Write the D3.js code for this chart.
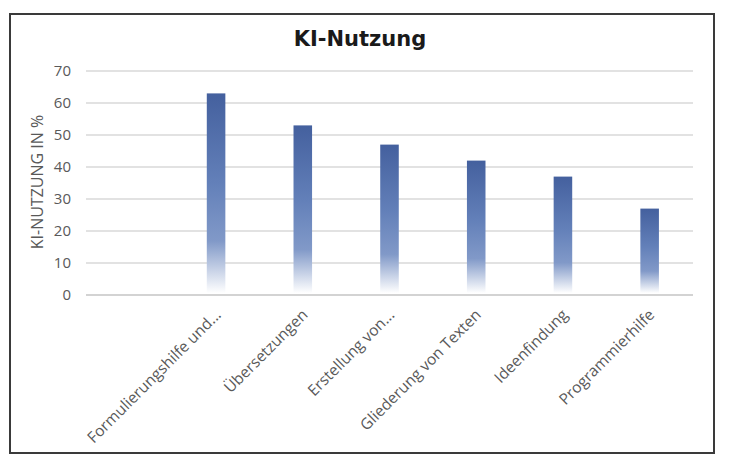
<!DOCTYPE html>
<html>
<head>
<meta charset="utf-8">
<script src="https://cdn.jsdelivr.net/npm/d3@7"></script>
<style>
  html, body { margin: 0; padding: 0; background: #ffffff; }
  svg { display: block; }
</style>
</head>
<body>
<svg id="chart" width="730" height="468"></svg>
<script>
// ---- Data ----
const title = "KI-Nutzung";
const yAxisTitle = "KI-NUTZUNG IN %";
const categories = ["", "Formulierungshilfe und...", "Übersetzungen", "Erstellung von...", "Gliederung von Texten", "Ideenfindung", "Programmierhilfe"];
const values = [null, 63, 53, 47, 42, 37, 27];
const yTicks = [0, 10, 20, 30, 40, 50, 60, 70];

// ---- Layout ----
const W = 730, H = 468;
const plot = { left: 86, right: 693, top: 71, bottom: 295 };
const font = "'Open Sans', 'DejaVu Sans', sans-serif";

const svg = d3.select("#chart");

svg.append("rect").attr("x", 0).attr("y", 0).attr("width", W).attr("height", H).attr("fill", "#ffffff");

// frame
svg.append("rect")
  .attr("x", 10).attr("y", 14).attr("width", 704).attr("height", 439)
  .attr("fill", "none").attr("stroke", "#3a3a3a").attr("stroke-width", 2);

// gradient
const defs = svg.append("defs");
const grad = defs.append("linearGradient").attr("id", "barGrad")
  .attr("x1", 0).attr("y1", 0).attr("x2", 0).attr("y2", 1);
grad.append("stop").attr("offset", "0%").attr("stop-color", "#44609e");
grad.append("stop").attr("offset", "45%").attr("stop-color", "#6380b9");
grad.append("stop").attr("offset", "74%").attr("stop-color", "#8199c8");
grad.append("stop").attr("offset", "100%").attr("stop-color", "#ffffff");

const x = d3.scaleBand().domain(categories).range([plot.left, plot.right])
  .paddingInner(0.786).paddingOuter(0.393);
const y = d3.scaleLinear().domain([0, 70]).range([plot.bottom, plot.top]);

// gridlines
svg.append("g").selectAll("line").data(yTicks).join("line")
  .attr("x1", plot.left).attr("x2", plot.right)
  .attr("y1", d => y(d)).attr("y2", d => y(d))
  .attr("stroke", d => d === 0 ? "#c4c4c4" : "#d9d9d9")
  .attr("stroke-width", 1.5);

// y axis labels
const yAxis = d3.axisLeft(y).tickValues(yTicks).tickSize(0).tickPadding(0);
const yg = svg.append("g").attr("transform", `translate(71,0)`).call(yAxis);
yg.select(".domain").remove();
yg.selectAll("text").attr("font-family", font).attr("font-size", 15).attr("fill", "#595959");

// bars
const data = categories.map((c, i) => ({ c, v: values[i] })).filter(d => d.v !== null);
svg.append("g").selectAll("rect").data(data).join("rect")
  .attr("x", d => x(d.c))
  .attr("width", x.bandwidth())
  .attr("y", d => y(d.v))
  .attr("height", d => y(0) - y(d.v) - 2)
  .attr("fill", "url(#barGrad)");

// x labels
const xAxis = d3.axisBottom(x).tickSize(0).tickPadding(0);
const xg = svg.append("g").attr("transform", `translate(0,${plot.bottom})`).call(xAxis);
xg.select(".domain").remove();
xg.selectAll("text")
  .attr("font-family", font).attr("font-size", 15.5).attr("fill", "#595959")
  .attr("text-anchor", "end")
  .attr("dy", "0.35em")
  .attr("transform", "translate(2,17) rotate(-45)")
  .attr("y", 0).attr("x", 0);

// y axis title
svg.append("text")
  .attr("transform", "translate(37,182) rotate(-90)")
  .attr("text-anchor", "middle").attr("dy", "0.35em")
  .attr("font-family", font).attr("font-size", 16).attr("fill", "#595959")
  .text(yAxisTitle);

// title
svg.append("text")
  .attr("x", 360).attr("y", 46)
  .attr("text-anchor", "middle")
  .attr("font-family", "'DejaVu Sans', sans-serif").attr("font-size", 21).attr("font-weight", "bold")
  .attr("fill", "#1a1a1a")
  .text(title);
</script>
</body>
</html>
